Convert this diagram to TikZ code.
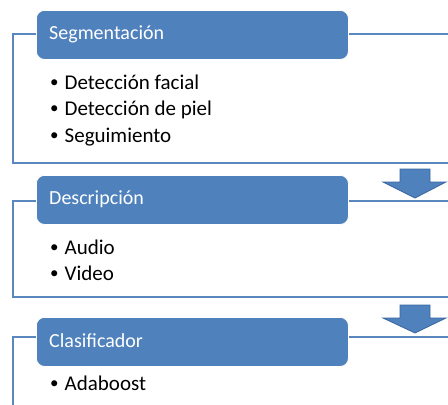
\documentclass[tikz,border=0pt]{standalone}
\usepackage{fontspec}
\setmainfont{Carlito}
\definecolor{hdrblue}{HTML}{4F81BD}
\definecolor{linblue}{HTML}{5B87C0}
\definecolor{arrblue}{HTML}{4F81BD}
\definecolor{arredge}{HTML}{3A66A0}
\newcommand{\mybul}{\raisebox{0.08em}{\fontsize{17}{17}\selectfont•}\hspace{6pt}}
\begin{document}
\begin{tikzpicture}[x=1pt,y=-1pt,
  hdrbox/.style={fill=hdrblue,draw=white,line width=0.8pt,rounded corners=8pt,
    minimum width=312pt,minimum height=49pt,anchor=north west,inner sep=0pt},
  hdrtext/.style={text=white,font=\fontsize{20}{20}\selectfont,anchor=west,inner sep=0pt},
  frameline/.style={draw=linblue,line width=1.3pt},
  bullet/.style={font=\fontsize{21}{21}\selectfont,anchor=west,inner sep=0pt},
  downarrow/.style={fill=arrblue,draw=arredge,line width=0.8pt,line join=miter}]
\useasboundingbox (0,0) rectangle (448,405);
\clip (0,0) rectangle (448,405);
% frames
\draw[frameline] (13,34) rectangle (470,163);
\draw[frameline] (13,201) rectangle (470,297);
\draw[frameline] (13,337) rectangle (470,430);
% arrows
\draw[downarrow] (400,169) -- (430,169) -- (430,182) -- (446,182) -- (415,198) -- (383,182) -- (400,182) -- cycle;
\draw[downarrow] (400,305) -- (430,305) -- (430,318) -- (446,318) -- (415,333) -- (383,318) -- (400,318) -- cycle;
% headers
\node[hdrbox] (h1) at (36,10) {};
\node[hdrtext] (t1) at (49,34) {Segmentación};
\node[hdrbox] (h2) at (36,175) {};
\node[hdrtext] (t2) at (49,199) {Descripción};
\node[hdrbox] (h3) at (36,317) {};
\node[hdrtext] (t3) at (49,341) {Clasificador};
% bullets
\node[bullet] (b11) at (50,82) {\mybul Detección facial};
\node[bullet] (b12) at (50,110) {\mybul Detección de piel};
\node[bullet] (b13) at (50,137) {\mybul Seguimiento};
\node[bullet] (b21) at (50,247) {\mybul Audio};
\node[bullet] (b22) at (50,273) {\mybul Video};
\node[bullet] (b31) at (50,383) {\mybul Adaboost};
\end{tikzpicture}
\end{document}
